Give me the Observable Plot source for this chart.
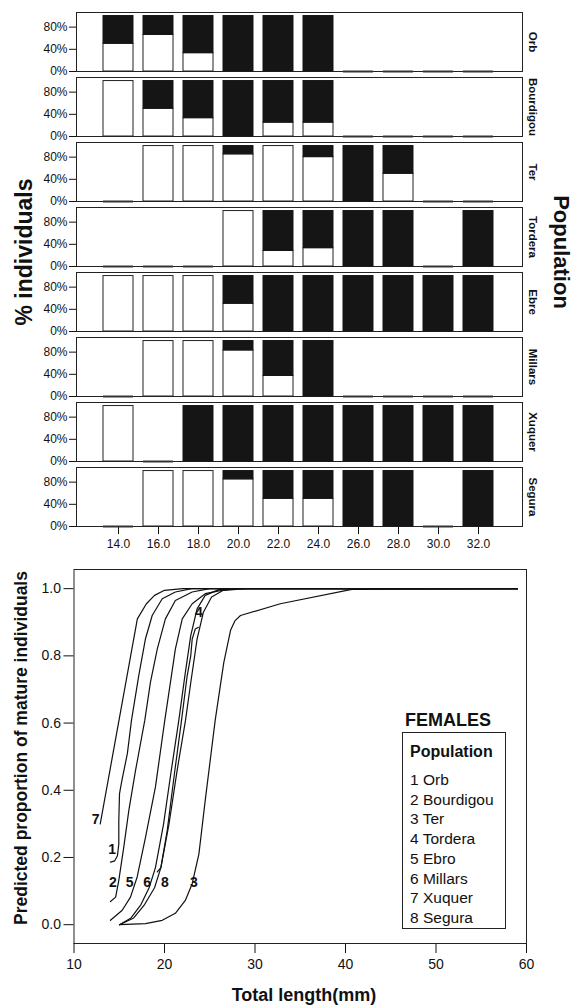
<!DOCTYPE html>
<html><head><meta charset="utf-8">
<script src="https://cdn.jsdelivr.net/npm/d3@7"></script>
<script src="https://cdn.jsdelivr.net/npm/@observablehq/plot@0.6"></script>
<style>
body{margin:0;background:#fff;font-family:"Liberation Sans",Arial,sans-serif;}
#wrap{position:relative;width:579px;height:1006px;overflow:hidden;}
#wrap svg{display:block;}
.t{position:absolute;font-weight:bold;color:#111;white-space:nowrap;line-height:1;}
.lg{position:absolute;color:#111;white-space:nowrap;line-height:1;font-size:15.5px;}
</style></head><body><div id="wrap"></div>
<script>
// ---- Top panel data: share of immature (white) individuals per length class; null = no data
const populations = ["Orb","Bourdigou","Ter","Tordera","Ebre","Millars","Xuquer","Segura"];
const lengthClasses = [14,16,18,20,22,24,26,28,30,32];
const orbImm       = [0.50,0.66,0.33,0,0,0,null,null,null,null];
const bourdigouImm = [1,0.50,0.33,0,0.25,0.25,null,null,null,null];
const terImm       = [null,1,1,0.85,1,0.80,0,0.50,null,null];
const torderaImm   = [null,null,null,1,0.28,0.33,0,0,null,0];
const ebreImm      = [1,1,1,0.50,0,0,0,0,0,0];
const millarsImm   = [null,1,1,0.83,0.37,0,null,null,null,null];
const xuquerImm    = [1,null,0,0,0,0,0,0,0,0];
const seguraImm    = [null,1,1,0.85,0.50,0.50,0,0,null,0];
const immShares = [orbImm,bourdigouImm,terImm,torderaImm,ebreImm,millarsImm,xuquerImm,seguraImm];

// ---- Bottom panel data: predicted maturity curves [length mm, proportion]
const curvePopulations = ["Orb","Bourdigou","Ter","Tordera","Ebro","Millars","Xuquer","Segura"];
const curveOrb = [[14.03,0.186],[14.5,0.19],[14.8,0.205],[14.95,0.24],[14.95,0.31],[15.03,0.39],[15.3,0.43],[15.9,0.51],[16.35,0.608],[17.16,0.742],[17.9,0.851],[18.64,0.92],[19.75,0.97],[21.2,0.99],[23,1.0],[59,1.0]];
const curveBourdigou = [[14.03,0.069],[14.6,0.082],[14.95,0.132],[15.5,0.231],[16.06,0.34],[16.8,0.459],[17.82,0.608],[18.45,0.722],[19.2,0.82],[20.1,0.91],[21.2,0.965],[23.06,0.99],[25,1.0],[59,1.0]];
const curveTer = [[15.03,0.0],[17.9,0.003],[19.75,0.013],[21.2,0.034],[22.3,0.072],[23.06,0.122],[23.8,0.21],[24.5,0.37],[25.6,0.608],[26.55,0.78],[27.3,0.876],[27.8,0.905],[28.4,0.92],[32.8,0.955],[40.7,0.998],[59,1.0]];
const curveTordera = [[19.2,0.157],[19.6,0.17],[20.3,0.28],[21.1,0.45],[21.88,0.608],[22.5,0.74],[22.9,0.8],[23.06,0.85],[23.4,0.88],[23.75,0.885]];
const curveEbro = [[14.03,0.013],[15.33,0.043],[16.24,0.082],[16.98,0.142],[17.9,0.26],[19.0,0.41],[20.03,0.608],[20.66,0.722],[21.2,0.82],[21.96,0.91],[23.06,0.955],[24.5,0.985],[26.3,0.995],[28,1.0],[59,1.0]];
const curveMillars = [[15.03,0.0],[16.3,0.02],[17.4,0.06],[18.3,0.11],[19.0,0.17],[19.9,0.3],[20.7,0.45],[21.58,0.608],[22.3,0.75],[22.9,0.86],[23.6,0.94],[24.5,0.98],[26,0.997],[28,1.0],[59,1.0]];
const curveXuquer = [[12.9,0.30],[17.0,0.91],[18.0,0.955],[18.9,0.98],[20.0,0.995],[22,1.0],[59,1.0]];
const curveSegura = [[15.03,0.0],[16.6,0.02],[17.8,0.06],[18.9,0.11],[19.6,0.17],[20.5,0.3],[21.4,0.46],[22.32,0.608],[22.9,0.72],[23.6,0.85],[24.3,0.93],[25.2,0.975],[26.5,0.995],[29,1.0],[59,1.0]];
const curves = [curveOrb,curveBourdigou,curveTer,curveTordera,curveEbro,curveMillars,curveXuquer,curveSegura];
// curve number labels: [number, x, y]
const curveLabels = [["7",12.40,0.314],["1",14.22,0.224],["2",14.29,0.124],["5",16.16,0.124],["6",18.08,0.124],["8",20.03,0.124],["3",23.24,0.124],["4",23.79,0.930]];
const legendTitle = "FEMALES";
const legendHeading = "Population";

const font = "Liberation Sans, Arial, Helvetica, sans-serif";
const ink = "#111";
const wrap = document.getElementById("wrap");

// ---------- top chart
const rows = [];
populations.forEach((p,i)=>lengthClasses.forEach((L,j)=>rows.push({pop:p,len:L,imm:immShares[i][j]})));
const present = rows.filter(d=>d.imm!=null);
const missing = rows.filter(d=>d.imm==null);
const hw = 0.75;

const topPlot = Plot.plot({
  width:579, height:556, marginLeft:76, marginRight:57, marginTop:11, marginBottom:28,
  style:{fontFamily:font, fontSize:"12px", color:ink, background:"white"},
  x:{domain:[11.9,34.2], ticks:lengthClasses, tickFormat:d=>d.toFixed(1), tickSize:8, tickPadding:5, label:null},
  y:{domain:[0,1.064], ticks:[0,0.4,0.8], tickFormat:d3.format(".0%"), tickSize:7, tickPadding:2, label:null},
  fy:{domain:populations, paddingInner:0.092, paddingOuter:0, axis:null, label:null},
  marks:[
    Plot.frame({stroke:"#222"}),
    Plot.rect(present.filter(d=>d.imm>0), {fy:"pop", x1:d=>d.len-hw, x2:d=>d.len+hw, y1:0, y2:"imm", fill:"white", stroke:"#222", strokeWidth:1}),
    Plot.rect(present.filter(d=>d.imm<1), {fy:"pop", x1:d=>d.len-hw, x2:d=>d.len+hw, y1:"imm", y2:1, fill:"#151515", stroke:"#151515", strokeWidth:1}),
    Plot.ruleY(missing, {fy:"pop", y:0, x1:d=>d.len-hw, x2:d=>d.len+hw, stroke:"#333", strokeWidth:2}),
    Plot.text(populations, {fy:d=>d, text:d=>d, frameAnchor:"right", textAnchor:"middle", dx:10, rotate:90, fontWeight:"bold", fontSize:11.5, fill:ink})
  ]
});
wrap.appendChild(topPlot);

// ---------- bottom chart
const curveRows = [];
curves.forEach((c,i)=>c.forEach(([x,y])=>curveRows.push({pop:curvePopulations[i],x,y})));
const bottomPlot = Plot.plot({
  width:579, height:450, marginLeft:73.5, marginRight:53, marginTop:13, marginBottom:63,
  style:{fontFamily:font, fontSize:"14px", color:ink, background:"white"},
  x:{domain:[10,60], ticks:[10,20,30,40,50,60], tickSize:10, tickPadding:6, label:null},
  y:{domain:[-0.056,1.057], ticks:[0,0.2,0.4,0.6,0.8,1.0], tickFormat:d3.format(".1f"), tickSize:10, tickPadding:3, label:null},
  marks:[
    Plot.frame({stroke:"#222"}),
    Plot.line(curveRows, {x:"x", y:"y", z:"pop", stroke:ink, strokeWidth:1.2}),
    Plot.text(curveLabels, {x:d=>d[1], y:d=>d[2], text:d=>d[0], fontWeight:"bold", fontSize:14, fill:ink})
  ]
});
wrap.appendChild(bottomPlot);

// ---------- titles and legend
function addText(txt, cls, css){const d=document.createElement("div");d.className=cls;d.textContent=txt;Object.assign(d.style,css);wrap.appendChild(d);return d;}
addText("% individuals","t",{left:"24px",top:"252px",fontSize:"23px",transform:"translate(-50%,-50%) rotate(-90deg)"});
addText("Population","t",{left:"561px",top:"252px",fontSize:"22px",transform:"translate(-50%,-50%) rotate(90deg)"});
addText("Predicted proportion of mature individuals","t",{left:"22px",top:"748px",fontSize:"17.5px",transform:"translate(-50%,-50%) rotate(-90deg)"});
addText("Total length(mm)","t",{left:"304px",top:"995px",fontSize:"18px",transform:"translate(-50%,-50%)"});
addText(legendTitle,"t",{left:"448px",top:"720px",fontSize:"18px",transform:"translate(-50%,-50%)"});
const box=document.createElement("div");
Object.assign(box.style,{position:"absolute",left:"402px",top:"732px",width:"104px",height:"197px",border:"1px solid #222",boxSizing:"border-box"});
wrap.appendChild(box);
addText(legendHeading,"t",{left:"410px",top:"752px",fontSize:"16px",transform:"translate(0,-50%)"});
curvePopulations.forEach((p,i)=>addText((i+1)+" "+p,"lg",{left:"410px",top:(780+i*19.7)+"px",transform:"translate(0,-50%)"}));
</script></body></html>
